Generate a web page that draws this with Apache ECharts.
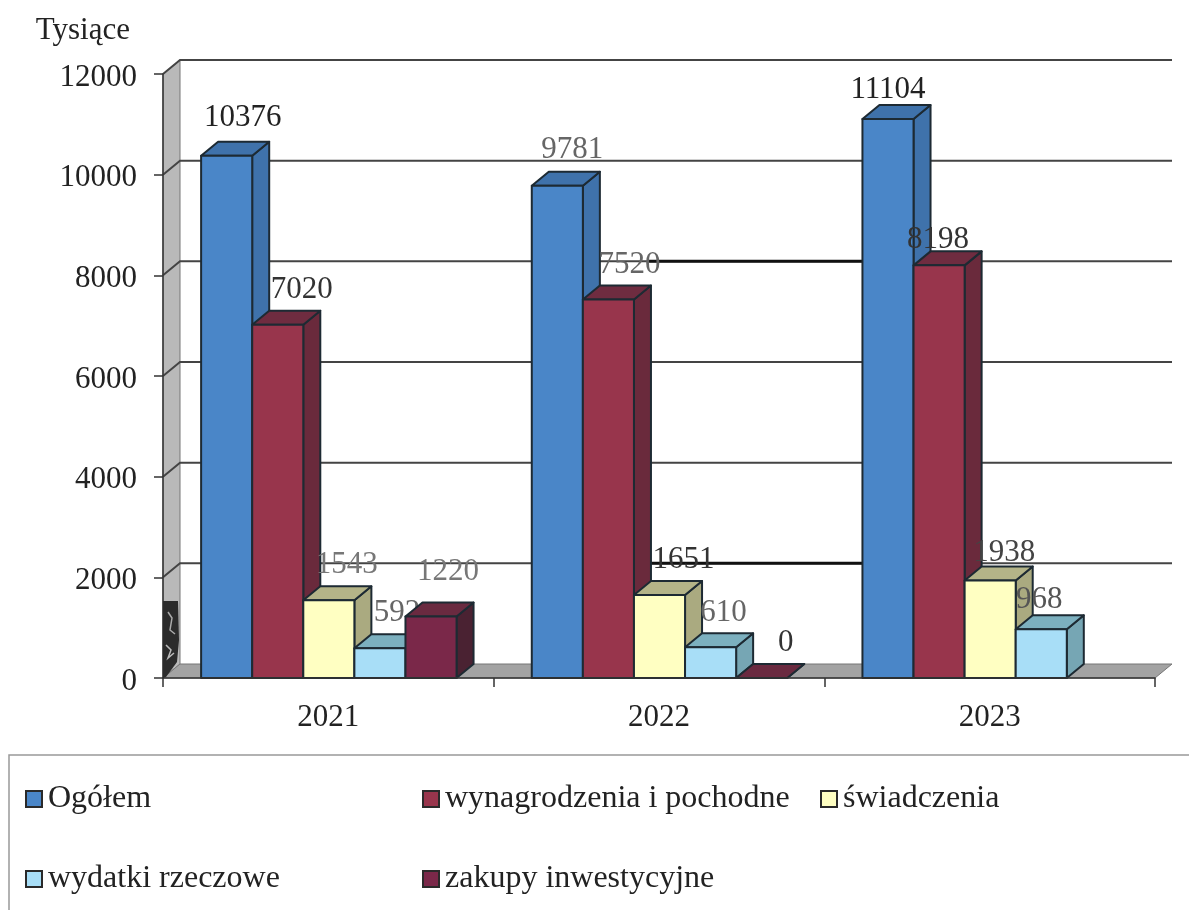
<!DOCTYPE html>
<html><head><meta charset="utf-8">
<style>html,body{margin:0;padding:0;background:#fff}#c{width:1189px;height:910px}</style>
<script src="https://cdn.jsdelivr.net/npm/echarts@6/dist/echarts.min.js"></script>
</head><body><div id="c"></div>
<script>
const categories = ['2021','2022','2023'];
const yTicks = [0,2000,4000,6000,8000,10000,12000];
const ogolem = [10376,9781,11104];
const wynagrodzenia = [7020,7520,8198];
const swiadczenia = [1543,1651,1938];
const wydatki = [592,610,968];
const zakupy = [1220,0,null];
const names = ['Ogółem','wynagrodzenia i pochodne','świadczenia','wydatki rzeczowe','zakupy inwestycyjne'];

const FONT = '"Liberation Serif","Times New Roman",serif';
const DX = 17, DY = -14;
const BAR_FRAC = 0.1545;
const styles = [
  {front:'#4a86c8', side:'#3f72ab', top:'#3f72ab'},
  {front:'#98354c', side:'#6a2a3c', top:'#6f2c40'},
  {front:'#ffffc2', side:'#aaaa80', top:'#b4b488'},
  {front:'#a8def7', side:'#76a6b4', top:'#7cb0bf'},
  {front:'#7a2849', side:'#4a2232', top:'#6a2a40'}
];
// label placement relative to the top of each bar, and ink tone as scanned
const labelNudge = [
  [[16,-38],[15,-36],[0,-29]],
  [[24,-35],[21,-35],[-1,-26]],
  [[18,-35],[24,-35],[14,-28]],
  [[17,-35],[13,-34],[-2,-29]],
  [[17,-45],[24,-35],[0,0]]
];
const labelTone = [
  ['#222','#666','#222'],
  ['#333','#666','#333'],
  ['#777','#333','#444'],
  ['#666','#666','#555'],
  ['#777','#333','#333']
];

function prism(i){
  return function(params, api){
    const c = params.dataIndex, v = api.value(1);
    if (v === null || isNaN(v)) return {type:'group',children:[]};
    const w = api.size([1,0])[0]*BAR_FRAC;
    const base = api.coord([c,0]), topPt = api.coord([c,v]);
    const x0 = base[0]+(i-2.5)*w+0.5, x1 = x0+w, y0 = base[1], y1 = topPt[1];
    const s = styles[i];
    const line = {stroke:'#1d2a33', lineWidth:2, lineJoin:'round'};
    const n = labelNudge[i][c];
    return {type:'group', children:[
      {type:'polygon', shape:{points:[[x1,y0],[x1+DX,y0+DY],[x1+DX,y1+DY],[x1,y1]]}, style:Object.assign({fill:s.side},line)},
      {type:'polygon', shape:{points:[[x0,y1],[x1,y1],[x1+DX,y1+DY],[x0+DX,y1+DY]]}, style:Object.assign({fill:s.top},line)},
      {type:'rect', shape:{x:x0,y:y1,width:w,height:y0-y1}, style:Object.assign({fill:s.front},line)},
      {type:'text', style:{text:String(v), x:(x0+x1)/2+n[0], y:y1+n[1], align:'center', verticalAlign:'middle',
        fill:labelTone[i][c], font:'31px '+FONT}}
    ]};
  };
}

function wall(params, api){
  const g = params.coordSys, v = api.value(0);
  const y = api.coord([0,v])[1], L = g.x, R = g.x+g.width, T = g.y, B = g.y+g.height;
  const kids = [];
  if (params.dataIndex === 0){
    kids.push({type:'polygon', shape:{points:[[L,B],[L+DX,B+DY],[L+DX,T+DY],[L,T]]},
      style:{fill:'#b9b9b9', stroke:'#777', lineWidth:1}});
    kids.push({type:'polygon', shape:{points:[[L,B],[L+DX,B+DY],[R+DX,B+DY],[R,B]]},
      style:{fill:'#a3a3a3', stroke:'#777', lineWidth:1}});
  }
  if (v !== 0){
    kids.push({type:'polyline', shape:{points:[[L,y],[L+DX,y+DY],[R+DX,y+DY]]},
      style:{stroke:'#444', lineWidth:2, fill:'none'}});
  }
  if (v === 2000 || v === 8000){
    kids.push({type:'line', shape:{x1:L+0.49*g.width,y1:y+DY,x2:L+0.705*g.width,y2:y+DY},
      style:{stroke:'#111', lineWidth:3}});
  }
  return {type:'group', children:kids};
}

const allValues = [ogolem,wynagrodzenia,swiadczenia,wydatki,zakupy];
const series = [{
  type:'custom', name:'wall', renderItem:wall, silent:true,
  data:yTicks.map(v=>[v]), encode:{x:-1,y:0}, z:1
}].concat(allValues.map((vals,i)=>({
  type:'custom', name:names[i], renderItem:prism(i), silent:true, z:2,
  itemStyle:{color:styles[i].front},
  data:vals.map((v,c)=>[c,v]), encode:{x:0,y:1}
})));

const legendPos = [[25,783],[422,783],[820,783],[25,863],[422,863]];
const legend = names.map((n,i)=>({
  data:[{name:n,icon:'rect'}], left:legendPos[i][0], top:legendPos[i][1], orient:'horizontal', padding:0,
  selectedMode:false, itemWidth:16, itemHeight:16, itemGap:0,
  itemStyle:{borderColor:'#2a2a2a', borderWidth:2},
  textStyle:{fontFamily:FONT, fontSize:32, color:'#222', padding:[0,0,0,1]}
}));

const chart = echarts.init(document.getElementById('c'), null, {renderer:'canvas'});
chart.setOption({
  animation:false,
  backgroundColor:'#ffffff',
  grid:{left:163,right:34,top:74,bottom:232,containLabel:false},
  xAxis:{type:'category', data:categories, boundaryGap:true,
    axisLine:{lineStyle:{color:'#333',width:1.5}},
    axisTick:{show:true,length:9,alignWithLabel:false,lineStyle:{color:'#333',width:1.5}},
    axisLabel:{fontFamily:FONT,fontSize:31,color:'#222',margin:24}, z:3},
  yAxis:{type:'value', min:0, max:12000, interval:2000,
    name:'Tysiące', nameLocation:'end', nameGap:28,
    nameTextStyle:{fontFamily:FONT,fontSize:31,color:'#222',align:'right',padding:[0,33,0,0]},
    axisLine:{show:true,lineStyle:{color:'#333',width:1.5}},
    axisTick:{show:true,length:9,lineStyle:{color:'#333',width:1.5}},
    axisLabel:{fontFamily:FONT,fontSize:31,color:'#222',margin:26,verticalAlign:'top',lineHeight:7,formatter:v=>String(yTicks[yTicks.indexOf(v)])},
    splitLine:{show:false}, z:3},
  legend, series,
  graphic:[
    {type:'polyline', shape:{points:[[9,910],[9,755],[1189,755]]}, style:{stroke:'#999',lineWidth:1.5,fill:'none'}, z:0},
    {type:'polygon', shape:{points:[[163,601],[178,601],[179,640],[177,662],[166,677],[163,678]]}, style:{fill:'#2b2b2b'}, z:10},
    {type:'polyline', shape:{points:[[168,612],[172,618],[170,630],[175,634]]}, style:{stroke:'#aaa',lineWidth:1.5,fill:'none'}, z:11},
    {type:'polyline', shape:{points:[[166,645],[171,650],[168,658],[174,653]]}, style:{stroke:'#bbb',lineWidth:1.5,fill:'none'}, z:11}
  ]
});
</script></body></html>
